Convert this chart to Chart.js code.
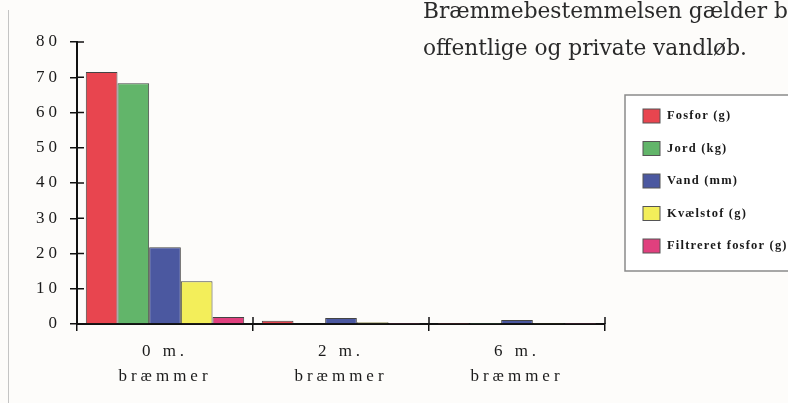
<!DOCTYPE html>
<html>
<head>
<meta charset="utf-8">
<script src="https://cdn.jsdelivr.net/npm/chart.js@4/dist/chart.umd.min.js"></script>
<style>
  html, body { margin: 0; padding: 0; background: #fdfcfa; width: 788px; height: 403px; overflow: hidden; }
  #wrap { position: absolute; left: 0; top: 0; width: 788px; height: 403px; }
  #frame { position: absolute; left: 8px; top: 10px; width: 0; height: 400px; border-left: 1.5px solid #c4c4c4; }
  #txt { position: absolute; left: 423px; top: 0px; font-family: "DejaVu Serif", serif; font-size: 21.7px; line-height: 37px; color: #2a2a2a; white-space: nowrap; margin-top: -8px; }
  canvas { position: absolute; left: 0; top: 0; }
</style>
</head>
<body>
<div id="wrap">
  <div id="frame"></div>
  <canvas id="c" width="788" height="403"></canvas>
  <div id="txt">Bræmmebestemmelsen gælder b<br>offentlige og private vandløb.</div>
</div>
<script>
const categories = [["0 m.", "bræmmer"], ["2 m.", "bræmmer"], ["6 m.", "bræmmer"]];
const seriesNames = ["Fosfor (g)", "Jord (kg)", "Vand (mm)", "Kvælstof (g)", "Filtreret fosfor (g)"];
const fosfor = [71.5, 0.9, 0.1];
const jord = [68.3, 0.2, 0.1];
const vand = [21.8, 1.7, 1.1];
const kvaelstof = [12.1, 0.5, 0.3];
const filtreretFosfor = [2.0, 0.1, 0.1];
const yTicks = [0, 10, 20, 30, 40, 50, 60, 70, 80];
const colors = ["#e8454f", "#62b56a", "#4b58a0", "#f3ee5a", "#e0407e"];

const seriesValues = [fosfor, jord, vand, kvaelstof, filtreretFosfor];

const spacingPlugin = {
  id: 'spacing',
  beforeDraw(chart) { chart.ctx.letterSpacing = '4px'; }
};

const crossTicks = {
  id: 'crossTicks',
  afterDraw(chart) {
    const ctx = chart.ctx;
    const x = chart.scales.x, y = chart.scales.y;
    ctx.save();
    ctx.strokeStyle = '#111';
    ctx.lineWidth = 1.5;
    y.ticks.forEach(t => {
      const py = y.getPixelForValue(t.value);
      ctx.beginPath(); ctx.moveTo(y.right, py); ctx.lineTo(y.right + 7, py); ctx.stroke();
    });
    const half = (x.getPixelForValue(1) - x.getPixelForValue(0)) / 2;
    for (let i = 1; i <= categories.length; i++) {
      const px = x.getPixelForValue(i - 1) + half;
      ctx.beginPath(); ctx.moveTo(px, x.top - 7); ctx.lineTo(px, x.top); ctx.stroke();
    }
    ctx.restore();
  }
};

const boxLegend = {
  id: 'boxLegend',
  afterDraw(chart) {
    const ctx = chart.ctx;
    ctx.save();
    ctx.fillStyle = '#ffffff';
    ctx.fillRect(625, 95, 180, 176);
    ctx.strokeStyle = '#8a8a8a';
    ctx.lineWidth = 1.5;
    ctx.strokeRect(625, 95, 180, 176);
    ctx.letterSpacing = '1.2px';
    ctx.font = 'bold 12.5px "Liberation Serif", serif';
    ctx.textBaseline = 'middle';
    chart.data.datasets.forEach((ds, i) => {
      const cy = 116 + i * 32.5;
      ctx.fillStyle = ds.backgroundColor;
      ctx.fillRect(643, cy - 7, 17, 14);
      ctx.strokeStyle = '#555';
      ctx.lineWidth = 1;
      ctx.strokeRect(643, cy - 7, 17, 14);
      ctx.fillStyle = '#1a1a1a';
      ctx.textAlign = 'left';
      ctx.fillText(ds.label, 667, cy);
    });
    ctx.restore();
  }
};

new Chart(document.getElementById('c'), {
  type: 'bar',
  data: {
    labels: categories,
    datasets: seriesNames.map((n, i) => ({
      label: n,
      data: seriesValues[i],
      backgroundColor: colors[i],
      borderColor: '#444',
      borderWidth: 1,
      categoryPercentage: 0.9,
      barPercentage: 1.0
    }))
  },
  options: {
    responsive: false,
    animation: false,
    devicePixelRatio: 1,
    layout: { padding: { top: 42, right: 183, left: 0, bottom: 0 } },
    plugins: { legend: { display: false }, tooltip: { enabled: false } },
    scales: {
      x: {
        grid: { offset: true, drawOnChartArea: false, tickLength: 7, color: '#111', lineWidth: 1.5 },
        border: { color: '#111', width: 2 },
        ticks: {
          color: '#1a1a1a',
          padding: 8,
          maxRotation: 0,
          font: { family: '"Liberation Serif", serif', size: 17, lineHeight: 25 / 17 }
        },
        afterFit(s) { s.height = 79; }
      },
      y: {
        min: 0, max: 80,
        afterBuildTicks(s) { s.ticks = yTicks.map(v => ({ value: v })); },
        grid: { drawOnChartArea: false, tickLength: 7, color: '#111', lineWidth: 1.5 },
        border: { color: '#111', width: 2 },
        ticks: {
          color: '#1a1a1a',
          padding: 9,
          font: { family: '"Liberation Serif", serif', size: 17 }
        },
        afterFit(s) { s.width = 77; }
      }
    }
  },
  plugins: [spacingPlugin, crossTicks, boxLegend]
});
</script>
</body>
</html>
